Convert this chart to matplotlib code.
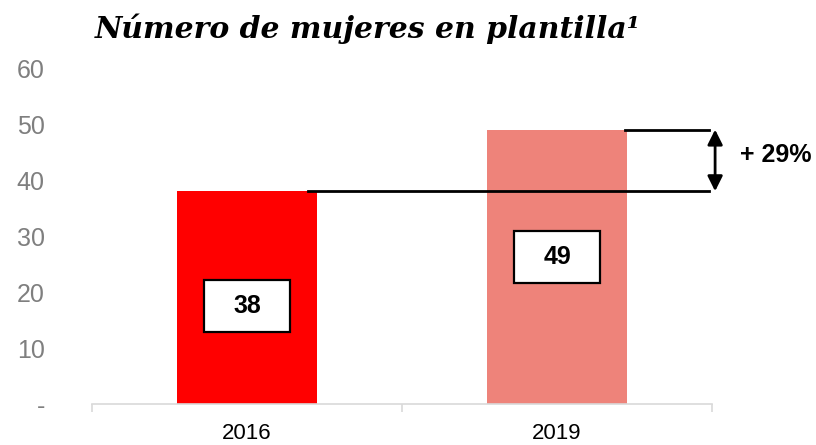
"""
Número de mujeres en plantilla: 2016 vs 2019
"""
import matplotlib
matplotlib.use("Agg")
import matplotlib.pyplot as plt
from matplotlib.patches import Rectangle

years = ["2016", "2019"]
women = [38, 49]
bar_colors = ["#ff0000", "#ee837a"]
box_bottoms = [12.9, 21.6]
growth_label = "+ 29%"
ytick_values = [0, 10, 20, 30, 40, 50, 60]
ytick_labels = ["-", "10", "20", "30", "40", "50", "60"]

plt.rcParams["font.family"] = ["Liberation Sans", "DejaVu Sans"]

fig = plt.figure(figsize=(8.16, 4.45), dpi=100)
ax = fig.add_axes([92 / 816, 41 / 445, 620 / 816, 336 / 445])

x = list(range(len(years)))
ax.bar(x, women, width=0.45, color=bar_colors, zorder=2)

# cajas con el valor
box_w, box_h = 0.28, 9.3
for xi, val, yb in zip(x, women, box_bottoms):
    ax.add_patch(Rectangle((xi - box_w / 2, yb), box_w, box_h, facecolor="white",
                           edgecolor="black", linewidth=1.6, zorder=3))
    ax.text(xi, yb + box_h / 2, str(val), ha="center", va="center",
            fontsize=18, fontweight="bold", zorder=4)

# lineas de referencia y flecha de crecimiento
ax.plot([0.197, 1.49], [women[0], women[0]], color="black", lw=2, zorder=3,
        clip_on=False)
ax.plot([1.22, 1.49], [women[1], women[1]], color="black", lw=2, zorder=3,
        clip_on=False)
ax.annotate("", xy=(1.51, women[1]), xytext=(1.51, women[0]),
            arrowprops=dict(arrowstyle="<|-|>,head_length=0.9,head_width=0.45",
                            color="black", lw=2, shrinkA=0, shrinkB=0),
            annotation_clip=False)
ax.text(1.59, (women[0] + women[1]) / 2 + 1.0, growth_label, ha="left",
        va="center", fontsize=18, fontweight="bold")

ax.set_xlim(-0.5, 1.5)
ax.set_ylim(0, 60)
ax.set_xticks(x)
ax.set_xticklabels(years, fontsize=16)
ax.set_xticks([-0.5, 0.5, 1.5], minor=True)
ax.tick_params(axis="x", which="major", length=0, pad=14)
ax.tick_params(axis="x", which="minor", length=6, color="#d9d9d9", width=1.2)
ax.set_yticks(ytick_values)
ax.set_yticklabels(ytick_labels, fontsize=18, color="#7f7f7f")
ax.tick_params(axis="y", length=0, pad=34)

for side in ["top", "right", "left"]:
    ax.spines[side].set_visible(False)
ax.spines["bottom"].set_color("#d9d9d9")
ax.spines["bottom"].set_linewidth(1.2)

fig.text(95 / 816, 1 - 29 / 445, "Número de mujeres en plantilla¹",
         family=["DejaVu Serif"], fontsize=21.5, fontweight="bold",
         fontstyle="italic", ha="left", va="center")

fig.savefig("out.png", dpi=100)
